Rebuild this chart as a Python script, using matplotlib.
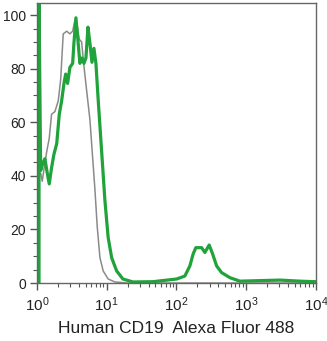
import matplotlib
matplotlib.use("Agg")
import matplotlib.pyplot as plt
from matplotlib.ticker import MultipleLocator, LogLocator, NullFormatter

plt.rcParams['font.family'] = ['Liberation Sans', 'DejaVu Sans']

# isotype control (grey)
ctrl_x = [1.0, 1.02, 1.13, 1.19, 1.27, 1.38, 1.50, 1.62, 1.81, 2.02, 2.19, 2.38, 2.67,
          2.97, 3.25, 3.50, 3.78, 4.04, 4.37, 4.72, 5.15, 5.75, 6.28, 6.78, 7.32,
          8.0, 8.91, 10.5, 13.1, 20.0, 10000]
ctrl_y = [0, 40, 41, 38, 43, 49, 54, 63, 64, 68, 76, 93, 94,
          93, 94, 98, 96, 91, 90, 81, 72, 61, 47, 35, 21,
          9.5, 4.5, 1.5, 0.4, 0, 0]

# CD19 stained (green)
cd19_x = [1.0, 1.07, 1.07, 1.13, 1.21, 1.30, 1.41, 1.50, 1.62, 1.75, 1.92, 2.09, 2.26,
          2.44, 2.58, 2.75, 2.97, 3.25, 3.39, 3.62, 3.87, 4.13, 4.42, 4.72,
          5.04, 5.39, 5.75, 6.15, 6.56, 7.01, 7.57, 8.47, 9.44, 10.5, 11.8,
          13.9, 17.1, 23.8, 46, 100.7, 132, 156, 174, 190, 230, 256, 295,
          330, 377, 444, 585, 813, 3050, 5900, 9680]
cd19_y = [0, 0, 106, 42, 44.6, 46.4, 40.8, 37, 43, 48, 52, 63, 68,
          74.5, 78, 74.5, 80.5, 82, 89.5, 99, 90.6, 82, 84, 82,
          84, 95.5, 89.5, 82.4, 87.6, 82, 68, 49, 30.7, 17, 9.4,
          4.5, 1.5, 0.4, 0.5, 1.5, 2.6, 6.4, 10.9, 13.2, 13.2, 11.4, 14.2,
          10.9, 6.4, 3.9, 2.0, 0.7, 1.1, 0.7, 0.5]

fig = plt.figure(figsize=(3.27, 3.41), dpi=100)
ax = fig.add_axes([0.113, 0.17, 0.853, 0.821])

ax.plot(ctrl_x, ctrl_y, color='#8a8a8a', lw=1.1)
ax.plot(cd19_x, cd19_y, color='#1fa33a', lw=2.3)

ax.set_xscale('log')
ax.set_xlim(1, 10000)
ax.set_ylim(0, 104.5)
ax.yaxis.set_major_locator(MultipleLocator(20))
ax.yaxis.set_minor_locator(MultipleLocator(5))
ax.xaxis.set_major_locator(LogLocator(base=10))
ax.xaxis.set_minor_locator(LogLocator(base=10, subs=range(2, 10)))
ax.xaxis.set_minor_formatter(NullFormatter())

for s in ax.spines.values():
    s.set_color('#666666')
    s.set_linewidth(1.0)
ax.tick_params(which='major', direction='out', length=5, width=1, color='#555555',
               labelsize=10, pad=3, labelcolor='#222222')
ax.tick_params(axis='x', which='major', labelsize=11, pad=4)
ax.tick_params(which='minor', direction='out', length=3, width=0.8, color='#555555')

ax.set_xlabel('Human CD19  Alexa Fluor 488', fontsize=12.5, labelpad=5, color='#222222')

fig.savefig('out.png', dpi=100)
